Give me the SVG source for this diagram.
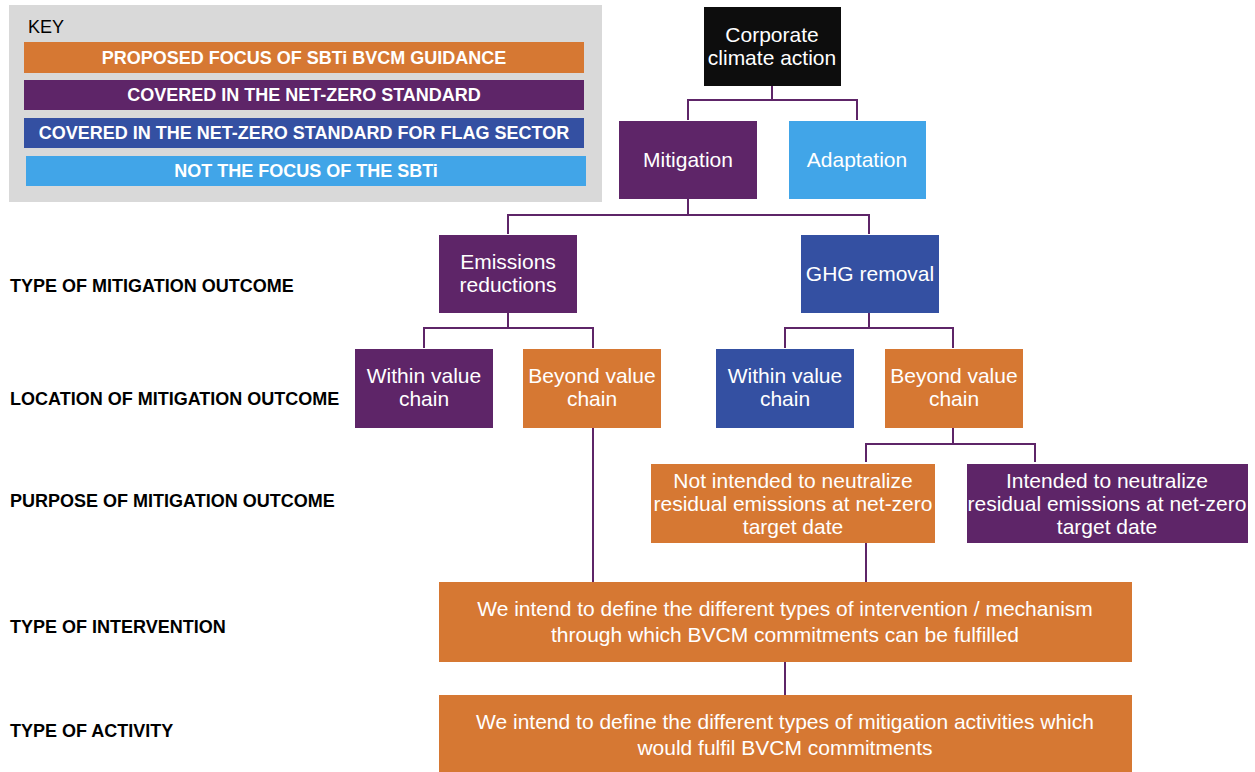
<svg xmlns="http://www.w3.org/2000/svg" width="1255" height="772" viewBox="0 0 1255 772">
<style>
.or{fill:#D67833}.pu{fill:#5E2568}.bl{fill:#3450A2}.lb{fill:#41A5E8}.bk{fill:#0D0D0D}
.t{font-family:"Liberation Sans",Arial,sans-serif;font-size:21px;fill:#fff;text-anchor:middle}
.k{font-family:"Liberation Sans",Arial,sans-serif;font-size:18px;font-weight:bold;fill:#fff;text-anchor:middle}
.r{font-family:"Liberation Sans",Arial,sans-serif;font-size:18px;font-weight:bold;fill:#000}
.c{fill:none;stroke:#5E2568;stroke-width:2}
</style>
<rect width="1255" height="772" fill="#fff"/>
<g id="key">
<rect x="9" y="5" width="593" height="197" fill="#D9D9D9"/>
<text x="28" y="33" font-family="Liberation Sans,Arial,sans-serif" font-size="18" fill="#000">KEY</text>
<rect class="or" x="24" y="42" width="560" height="31"/>
<text class="k" x="304" y="64">PROPOSED FOCUS OF SBTi BVCM GUIDANCE</text>
<rect class="pu" x="24" y="80" width="560" height="30"/>
<text class="k" x="304" y="101">COVERED IN THE NET-ZERO STANDARD</text>
<rect class="bl" x="24" y="118" width="560" height="30"/>
<text class="k" x="304" y="139">COVERED IN THE NET-ZERO STANDARD FOR FLAG SECTOR</text>
<rect class="lb" x="26" y="156" width="560" height="30"/>
<text class="k" x="306" y="177">NOT THE FOCUS OF THE SBTi</text>
</g>
<g id="labels">
<text class="r" x="10" y="292">TYPE OF MITIGATION OUTCOME</text>
<text class="r" x="10" y="405">LOCATION OF MITIGATION OUTCOME</text>
<text class="r" x="10" y="507">PURPOSE OF MITIGATION OUTCOME</text>
<text class="r" x="10" y="633">TYPE OF INTERVENTION</text>
<text class="r" x="10" y="737">TYPE OF ACTIVITY</text>
</g>
<g id="connectors">
<path class="c" d="M772 86V100M688 120V100H857V120"/>
<path class="c" d="M688 199V215M508 234V215H869V234"/>
<path class="c" d="M508 313V328M424 348V328H593V348"/>
<path class="c" d="M869 313V328M785 348V328H953V348"/>
<path class="c" d="M953 428V444M866 462V444H1035V462"/>
<path class="c" d="M593 428V582"/>
<path class="c" d="M866 543V582"/>
<path class="c" d="M785 662V695"/>
</g>
<g id="n-corporate">
<rect class="bk" x="704" y="7" width="137" height="79"/>
<text class="t" x="772" y="42">Corporate</text>
<text class="t" x="772" y="65">climate action</text>
</g>
<g id="n-mitigation">
<rect class="pu" x="619" y="121" width="138" height="78"/>
<text class="t" x="688" y="167">Mitigation</text>
</g>
<g id="n-adaptation">
<rect class="lb" x="789" y="121" width="137" height="78"/>
<text class="t" x="857" y="167">Adaptation</text>
</g>
<g id="n-emissions">
<rect class="pu" x="439" y="235" width="138" height="78"/>
<text class="t" x="508" y="269">Emissions</text>
<text class="t" x="508" y="292">reductions</text>
</g>
<g id="n-ghg">
<rect class="bl" x="801" y="235" width="138" height="78"/>
<text class="t" x="870" y="281">GHG removal</text>
</g>
<g id="n-within1">
<rect class="pu" x="355" y="349" width="138" height="79"/>
<text class="t" x="424" y="383">Within value</text>
<text class="t" x="424" y="406">chain</text>
</g>
<g id="n-beyond1">
<rect class="or" x="523" y="349" width="138" height="79"/>
<text class="t" x="592" y="383">Beyond value</text>
<text class="t" x="592" y="406">chain</text>
</g>
<g id="n-within2">
<rect class="bl" x="716" y="349" width="138" height="79"/>
<text class="t" x="785" y="383">Within value</text>
<text class="t" x="785" y="406">chain</text>
</g>
<g id="n-beyond2">
<rect class="or" x="885" y="349" width="138" height="79"/>
<text class="t" x="954" y="383">Beyond value</text>
<text class="t" x="954" y="406">chain</text>
</g>
<g id="n-notintended">
<rect class="or" x="651" y="464" width="284" height="79"/>
<text class="t" x="793" y="488">Not intended to neutralize</text>
<text class="t" x="793" y="511">residual emissions at net-zero</text>
<text class="t" x="793" y="534">target date</text>
</g>
<g id="n-intended">
<rect class="pu" x="967" y="464" width="281" height="79"/>
<text class="t" x="1107" y="488">Intended to neutralize</text>
<text class="t" x="1107" y="511">residual emissions at net-zero</text>
<text class="t" x="1107" y="534">target date</text>
</g>
<g id="n-intervention">
<rect class="or" x="439" y="582" width="693" height="80"/>
<text class="t" x="785" y="616">We intend to define the different types of intervention / mechanism</text>
<text class="t" x="785" y="642">through which BVCM commitments can be fulfilled</text>
</g>
<g id="n-activity">
<rect class="or" x="439" y="695" width="693" height="77"/>
<text class="t" x="785" y="729">We intend to define the different types of mitigation activities which</text>
<text class="t" x="785" y="755">would fulfil BVCM commitments</text>
</g>
</svg>
